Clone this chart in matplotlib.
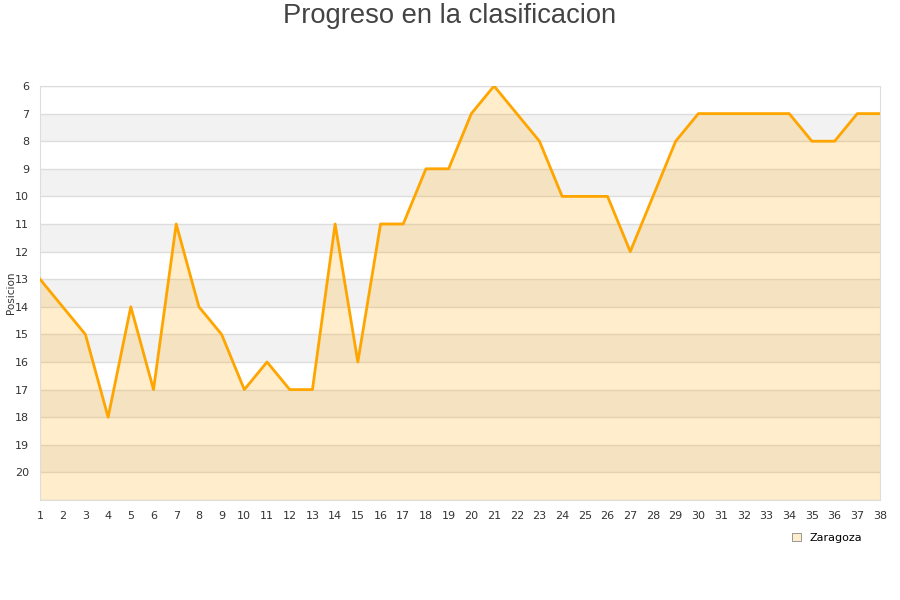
import matplotlib
matplotlib.use("Agg")
import matplotlib.pyplot as plt
from matplotlib.patches import Patch

jornadas = list(range(1, 39))
posicion = [13, 14, 15, 18, 14, 17, 11, 14, 15, 17, 16, 17, 17, 11, 16, 11, 11, 9, 9, 7,
            6, 7, 8, 10, 10, 10, 12, 10, 8, 7, 7, 7, 7, 7, 8, 8, 7, 7]
y_ticks = list(range(6, 21))
equipo = "Zaragoza"

fig = plt.figure(figsize=(9, 6), dpi=100)
ax = fig.add_axes([40 / 900, 100 / 600, 840 / 900, 414 / 600])

# alternate grey bands
for lo in range(7, 21, 2):
    ax.axhspan(lo, lo + 1, color="#f2f2f2", zorder=0, lw=0)
for y in range(6, 22):
    ax.axhline(y, color="#dddddd", lw=1, zorder=1)

ax.fill_between(jornadas, posicion, 21, color="#ffa500", alpha=0.2, lw=0, zorder=2)
ax.plot(jornadas, posicion, color="#ffa500", lw=2, zorder=3)

ax.set_xlim(1, 38)
ax.set_ylim(21, 6)
ax.set_xticks(jornadas)
ax.set_yticks(y_ticks)
ax.tick_params(length=0, labelsize=8, colors="#333333", pad=8)
for s in ax.spines.values():
    s.set_color("#dddddd")
ax.set_ylabel("Posicion", fontsize=7.5, color="#333333")
ax.yaxis.set_label_coords(-0.029, 0.5)

fig.text(0.5, 1 - 16 / 600, "Progreso en la clasificacion", ha="center", va="center",
         fontsize=19.7, color="#444444", family="Liberation Sans")

leg = fig.legend(handles=[Patch(facecolor="#ffedcc", edgecolor="#888888", lw=0.6, label=equipo)],
                 loc="center", bbox_to_anchor=(827 / 900, 1 - 538 / 600), frameon=False,
                 fontsize=8, handlelength=0.8, handleheight=0.8, handletextpad=0.8)

fig.savefig("out.png", dpi=100)
